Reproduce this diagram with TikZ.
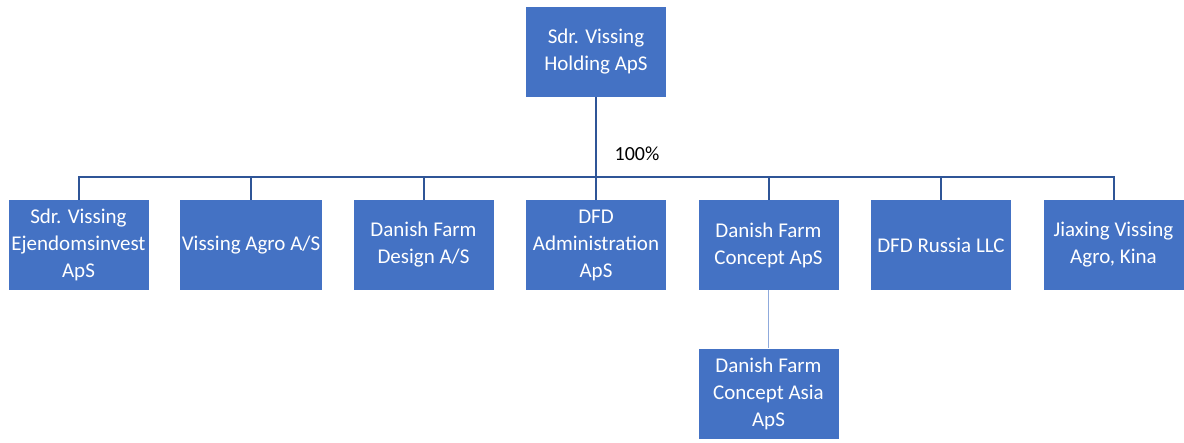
\documentclass[tikz,border=0pt]{standalone}
\usepackage{fontspec}
\setmainfont{Carlito}
\definecolor{boxblue}{HTML}{4472C4}
\definecolor{lineblue}{HTML}{2F5597}
\definecolor{paleline}{HTML}{8FAADC}
\tikzset{
  company/.style={draw=none, fill=boxblue, text=white, align=center,
    minimum width=140pt, minimum height=90pt, inner sep=2pt,
    font=\fontsize{21}{27}\selectfont},
}
\begin{document}
\begin{tikzpicture}[x=1pt, y=1pt]
  \useasboundingbox (0,0) rectangle (1184,-442);
  \node[company] (holding) at (596,-52) {Sdr. Vissing\\Holding ApS}
    [grow=south, level distance=193pt, sibling distance=172.5pt,
     edge from parent/.style={draw, lineblue, line width=2pt},
     edge from parent path={(\tikzparentnode.south) -- ++(0,-80) -| (\tikzchildnode.north)}]
    child {node[company] (ejendom) {Sdr. Vissing\\Ejendomsinvest\\ApS}}
    child {node[company] (agro) {Vissing Agro A/S}}
    child {node[company] (design) {Danish Farm\\Design A/S}}
    child {node[company] (admin) {DFD\\Administration\\ApS}}
    child {node[company] (concept) {Danish Farm\\Concept ApS}
      child[level distance=148.5pt,
            edge from parent/.style={draw, paleline, line width=1pt},
            edge from parent path={(\tikzparentnode.south) -- (\tikzchildnode.north)}]
        {node[company] (asia) {Danish Farm\\Concept Asia\\ApS}}}
    child {node[company] (russia) {DFD Russia LLC}}
    child {node[company] (jiaxing) {Jiaxing Vissing\\Agro, Kina}};
  \node[font=\fontsize{20}{24}\selectfont] (share) at (637,-154) {100\%};
\end{tikzpicture}
\end{document}
